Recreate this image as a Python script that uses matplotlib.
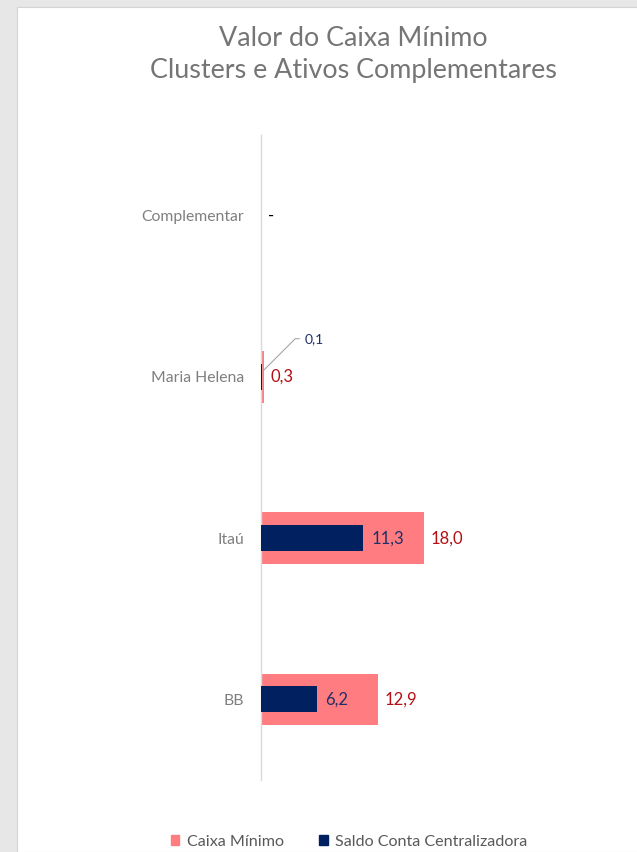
import matplotlib.pyplot as plt
from matplotlib.patches import Rectangle, Patch

# Data
categories = ['Complementar', 'Maria Helena', 'Itaú', 'BB']
caixa_minimo = [0.0, 0.3, 18.0, 12.9]
saldo_conta = [0.0, 0.1, 11.3, 6.2]
caixa_labels = ['-', '0,3', '18,0', '12,9']
saldo_labels = ['', '0,1', '11,3', '6,2']

pink = '#FF7C80'
navy = '#002060'
red_txt = '#B40F14'
navy_txt = '#1F3068'
gray_txt = '#595959'
cat_txt = '#7F7F7F'

plt.rcParams['font.family'] = ['Lato', 'DejaVu Sans']

fig = plt.figure(figsize=(6.37, 8.52), dpi=100)
fig.patch.set_facecolor('#E7E7E7')
# white chart area on the gray page
fig.patches.append(Rectangle((17 / 637, 0), 1, 1 - 7 / 852, transform=fig.transFigure,
                             facecolor='white', edgecolor='#D4D4D4', lw=0.8, zorder=-10))

ax = fig.add_axes([261 / 637, 1 - 780 / 852, (623 - 261) / 637, 645 / 852])
ax.set_facecolor('none')

y = list(range(len(categories)))
ax.barh(y, caixa_minimo, height=0.32, color=pink, zorder=2)
ax.barh(y, saldo_conta, height=0.16, color=navy, zorder=3)

ax.set_xlim(0, 40)
ax.set_ylim(3.5, -0.5)
ax.set_yticks(y)
ax.set_yticklabels(categories, color=cat_txt, fontsize=11.3)
ax.tick_params(axis='y', length=0, pad=12)
ax.set_xticks([])
for s in ['top', 'right', 'bottom']:
    ax.spines[s].set_visible(False)
ax.spines['left'].set_color('#D9D9D9')
ax.spines['left'].set_linewidth(1)

# labels for Caixa Minimo
for i in y:
    col = 'black' if caixa_labels[i] == '-' else red_txt
    ax.annotate(caixa_labels[i], (caixa_minimo[i], i), xytext=(5, 0), textcoords='offset points',
                ha='left', va='center', color=col, fontsize=12)

# labels for Saldo Conta
for i in y:
    if saldo_labels[i] == '':
        continue
    if i == 1:
        ax.annotate(saldo_labels[i], (saldo_conta[i], i - 0.03), xytext=(31, 24),
                    textcoords='offset points', ha='left', va='center', color=navy_txt, fontsize=10,
                    arrowprops=dict(arrowstyle='-', color='#A6A6A6', lw=0.8,
                                    connectionstyle='angle,angleA=0,angleB=45,rad=0',
                                    shrinkA=2, shrinkB=1))
    else:
        ax.annotate(saldo_labels[i], (saldo_conta[i], i), xytext=(6, 0), textcoords='offset points',
                    ha='left', va='center', color=navy_txt, fontsize=12)

fig.suptitle('Valor do Caixa Mínimo\nClusters e Ativos Complementares', x=353 / 637, y=1 - 26 / 852,
             va='top', color='#757575', fontsize=19.4, linespacing=1.35)

handles = [Patch(color=pink, label='Caixa Mínimo'), Patch(color=navy, label='Saldo Conta Centralizadora')]
fig.legend(handles=handles, loc='center', bbox_to_anchor=(349 / 637, 1 - 842 / 852), ncol=2,
           frameon=False, fontsize=11.6, labelcolor=gray_txt, handlelength=0.55, handleheight=0.55,
           handletextpad=0.45, columnspacing=2.2)

fig.savefig('out.png', dpi=100, facecolor=fig.get_facecolor())
